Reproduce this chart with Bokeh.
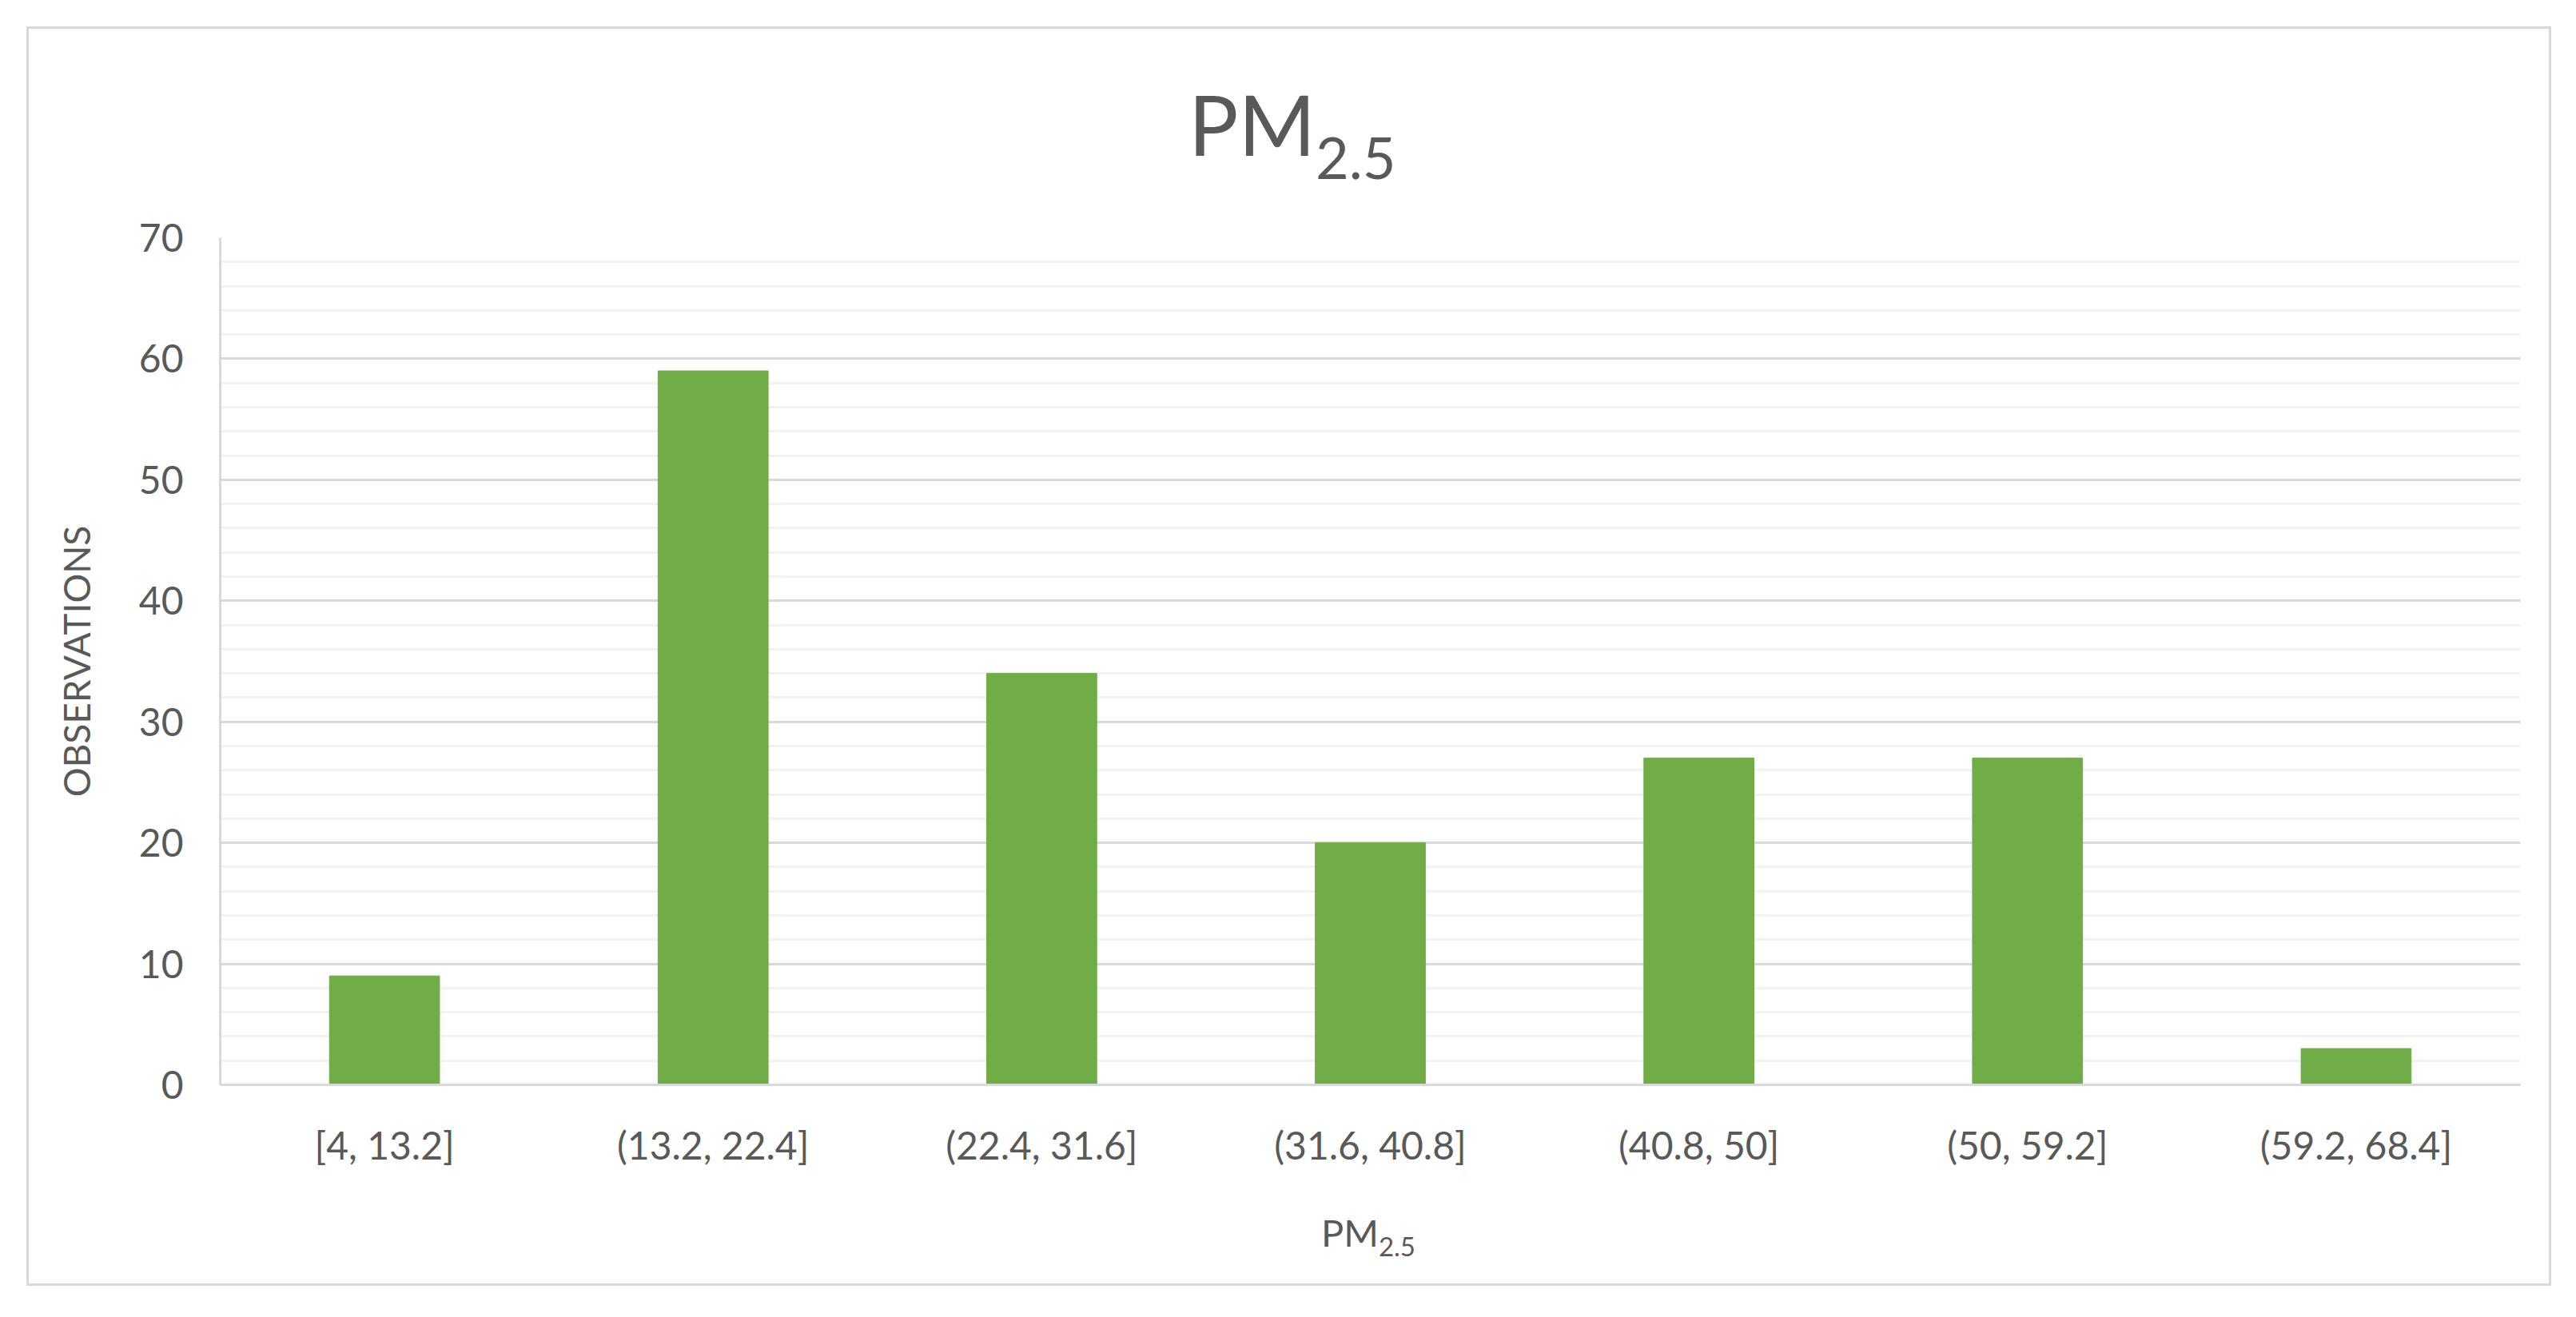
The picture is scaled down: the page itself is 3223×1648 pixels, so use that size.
from bokeh.plotting import figure
from bokeh.models import (FactorRange, Range1d, SingleIntervalTicker,
                          ColumnDataSource, GridBox, Div)
from bokeh.embed import file_html
from bokeh.resources import INLINE

# ---- data ----
categories = ["[4, 13.2]", "(13.2, 22.4]", "(22.4, 31.6]", "(31.6, 40.8]",
              "(40.8, 50]", "(50, 59.2]", "(59.2, 68.4]"]
observations = [9, 59, 34, 20, 27, 27, 3]
y_ticks = [0, 10, 20, 30, 40, 50, 60, 70]
title_main, title_sub = "PM", "2.5"
y_title = "OBSERVATIONS"

TEXT = "#595959"
GRID = "#D9D9D9"
MINOR = "#F2F2F2"
GREEN = "#70AD47"
FONT = "Lato"

W, H = 3207, 1632

# ---------------- main chart ----------------
src = ColumnDataSource(dict(cat=categories, obs=observations))

p = figure(width=W, height=H, x_range=FactorRange(*categories, range_padding=0),
           y_range=Range1d(y_ticks[0], y_ticks[-1]),
           output_backend="svg", toolbar_location=None,
           min_border_left=275, min_border_right=54,
           min_border_top=297, min_border_bottom=275)
p.title = None
p.background_fill_color = "white"
p.border_fill_color = "white"
p.outline_line_color = None

p.vbar(x="cat", top="obs", width=0.335, source=src,
       fill_color=GREEN, line_color=GREEN, line_width=1)

p.yaxis.ticker = SingleIntervalTicker(interval=10, num_minor_ticks=5)
p.yaxis.major_tick_line_color = None
p.yaxis.minor_tick_line_color = None
p.yaxis.axis_line_color = GRID
p.yaxis.axis_line_width = 3
p.yaxis.major_label_text_font = FONT
p.yaxis.major_label_text_font_size = "48px"
p.yaxis.major_label_text_color = TEXT
p.yaxis.major_label_standoff = 40
p.yaxis.axis_label = y_title
p.yaxis.axis_label_text_font = FONT
p.yaxis.axis_label_text_font_size = "46px"
p.yaxis.axis_label_text_font_style = "normal"
p.yaxis.axis_label_text_color = TEXT
p.yaxis.axis_label_standoff = 48

p.xaxis.major_tick_line_color = None
p.xaxis.minor_tick_line_color = None
p.xaxis.axis_line_color = GRID
p.xaxis.axis_line_width = 3
p.xaxis.major_label_text_font = FONT
p.xaxis.major_label_text_font_size = "48px"
p.xaxis.major_label_text_color = TEXT
p.xaxis.major_label_standoff = 40

p.xgrid.grid_line_color = None
p.ygrid.grid_line_color = GRID
p.ygrid.grid_line_width = 3
p.ygrid.minor_grid_line_color = MINOR
p.ygrid.minor_grid_line_width = 3

# ---------------- transparent HTML overlay: border + titles with subscripts ----
ASC = 0.987  # Lato ascent (em) with line-height 1.2

def sub_text(left, baseline, size, sub_size, sub_drop):
    return (f'<div style="position:absolute; left:{left}px; '
            f'top:{baseline - ASC * size:.1f}px; font-size:{size}px; '
            f'line-height:1.2; white-space:nowrap;">{title_main}'
            f'<span style="font-size:{sub_size}px; position:relative; '
            f'top:{sub_drop}px;">{title_sub}</span></div>')

html = (f'<div style="position:relative; width:{W}px; height:{H}px; '
        f'font-family:{FONT}, sans-serif; color:{TEXT};">'
        f'<div style="position:absolute; left:33px; top:33px; width:3159px; '
        f'height:1576px; box-sizing:border-box; border:3px solid {GRID};"></div>'
        + sub_text(1487, 196, 104, 72, 29)
        + sub_text(1653, 1560, 47, 33, 12)
        + '</div>')

overlay = Div(text=html, width=W, height=H, margin=(0, 0, 0, 0))

layout = GridBox(children=[(p, 0, 0), (overlay, 0, 0)])

open("out.html", "w").write(file_html(layout, INLINE))
